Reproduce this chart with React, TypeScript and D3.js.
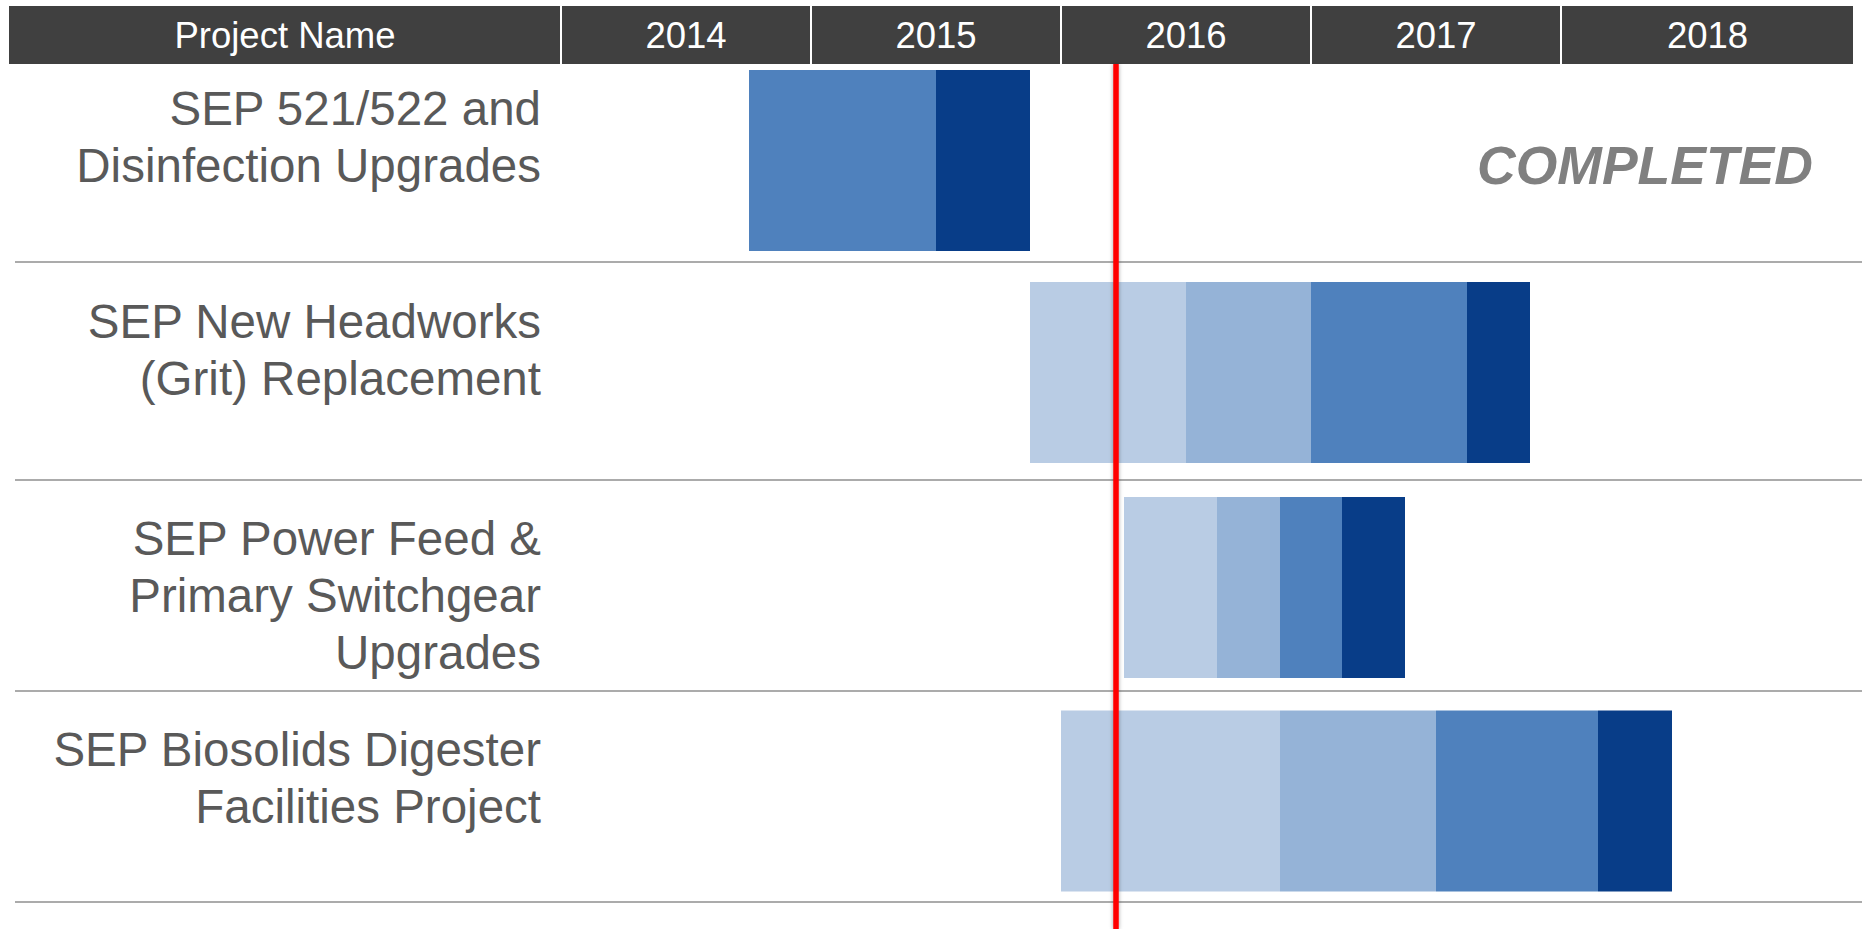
import React from "react";
import * as d3 from "d3";

// ---- data ----
const years = [2014, 2015, 2016, 2017, 2018];
const headerTitle = "Project Name";
const projectLabels: string[][] = [
  ["SEP 521/522 and", "Disinfection Upgrades"],
  ["SEP New Headworks", "(Grit) Replacement"],
  ["SEP Power Feed &", "Primary Switchgear", "Upgrades"],
  ["SEP Biosolids Digester", "Facilities Project"],
];
const phaseColors = ["#b9cce4", "#95b3d7", "#4f81bd", "#083d88"];
// segments: [start (decimal year), end (decimal year), phase index]
const project1Segments: [number, number, number][] = [
  [2014.752, 2015.5, 2],
  [2015.5, 2015.876, 3],
];
const project2Segments: [number, number, number][] = [
  [2015.876, 2016.5, 0],
  [2016.5, 2017.0, 1],
  [2017.0, 2017.624, 2],
  [2017.624, 2017.876, 3],
];
const project3Segments: [number, number, number][] = [
  [2016.252, 2016.624, 0],
  [2016.624, 2016.876, 1],
  [2016.876, 2017.124, 2],
  [2017.124, 2017.376, 3],
];
const project4Segments: [number, number, number][] = [
  [2016.0, 2016.876, 0],
  [2016.876, 2017.5, 1],
  [2017.5, 2018.148, 2],
  [2018.148, 2018.444, 3],
];
const allSegments = [project1Segments, project2Segments, project3Segments, project4Segments];
const todayMarker = 2016.22;
const completedFlags = [true, false, false, false];
const completedText = "COMPLETED";

// ---- layout ----
const W = 1862;
const H = 929;
const HEADER_TOP = 6;
const HEADER_BOTTOM = 64;
const HEADER_LEFT = 9;
const HEADER_RIGHT = 1854;
const ROW_EDGES = [64, 262, 480, 691, 902];
const LABEL_PAD = [61, 76, 75, 75];
const BAR_OFFSET = [-2.5, 1.5, 2, 4.5];
const BAR_H = 181;
const LABEL_X = 541;
const FONT = "'Liberation Sans', Arial, Helvetica, sans-serif";

export default function App() {
  const x = d3.scaleLinear().domain([2014, 2019]).range([561, 1811]);
  const rowY = d3.scaleLinear().domain([0, 1, 2, 3, 4]).range(ROW_EDGES);

  const headerCells = [
    { label: headerTitle, x0: HEADER_LEFT, x1: x(years[0]) },
    ...years.map((yr, i) => ({
      label: String(yr),
      x0: x(yr),
      x1: i === years.length - 1 ? HEADER_RIGHT : x(yr + 1),
    })),
  ];

  const tx = x(todayMarker);
  const lineW = 5.5;

  return (
    <svg
      width={W}
      height={H}
      style={{ position: "absolute", left: 0, top: 0, background: "#fff" }}
      fontFamily={FONT}
    >
      <defs>
        <filter id="shadow" filterUnits="userSpaceOnUse" x={tx - 20} y={0} width={40} height={H}>
          <feDropShadow dx="0" dy="0" stdDeviation="2" floodColor="#000" floodOpacity="0.35" />
        </filter>
      </defs>
      <rect x={0} y={0} width={W} height={H} fill="#fff" />

      {/* header */}
      {headerCells.map((c, i) => (
        <g key={"h" + i}>
          <rect
            x={c.x0 + (i === 0 ? 0 : 1)}
            y={HEADER_TOP}
            width={c.x1 - c.x0 - (i === 0 ? 1 : 2)}
            height={HEADER_BOTTOM - HEADER_TOP}
            fill="#404040"
          />
          <text
            x={(c.x0 + c.x1) / 2}
            y={47.5}
            textAnchor="middle"
            fill="#ffffff"
            fontSize={36.5}
          >
            {c.label}
          </text>
        </g>
      ))}

      {/* row separators */}
      {ROW_EDGES.slice(1).map((e, i) => (
        <line
          key={"sep" + i}
          x1={15}
          x2={W}
          y1={rowY(i + 1)}
          y2={rowY(i + 1)}
          stroke="#ababab"
          strokeWidth={2}
        />
      ))}

      {/* bars */}
      {allSegments.map((segs, r) => {
        const cy = rowY(r + 0.5) + BAR_OFFSET[r];
        return segs.map((s, k) => (
          <rect
            key={"b" + r + "-" + k}
            x={x(s[0])}
            y={cy - BAR_H / 2}
            width={x(s[1]) - x(s[0])}
            height={BAR_H}
            fill={phaseColors[s[2]]}
          />
        ));
      })}

      {/* labels */}
      {projectLabels.map((lines, r) => (
        <text
          key={"l" + r}
          x={LABEL_X}
          y={rowY(r) + LABEL_PAD[r]}
          textAnchor="end"
          fill="#595959"
          fontSize={47.5}
        >
          {lines.map((ln, j) => (
            <tspan key={j} x={LABEL_X} dy={j === 0 ? 0 : 57}>
              {ln}
            </tspan>
          ))}
        </text>
      ))}

      {/* completed */}
      {completedFlags.map((f, r) =>
        f ? (
          <text
            key={"c" + r}
            x={1645}
            y={rowY(r) + 119.5}
            textAnchor="middle"
            fill="#808080"
            fontSize={53.5}
            fontWeight="bold"
            fontStyle="italic"
          >
            {completedText}
          </text>
        ) : null
      )}

      {/* today line */}
      <rect
        x={tx - lineW / 2}
        y={HEADER_BOTTOM}
        width={lineW}
        height={H - HEADER_BOTTOM}
        fill="#ff0000"
        filter="url(#shadow)"
      />
    </svg>
  );
}
